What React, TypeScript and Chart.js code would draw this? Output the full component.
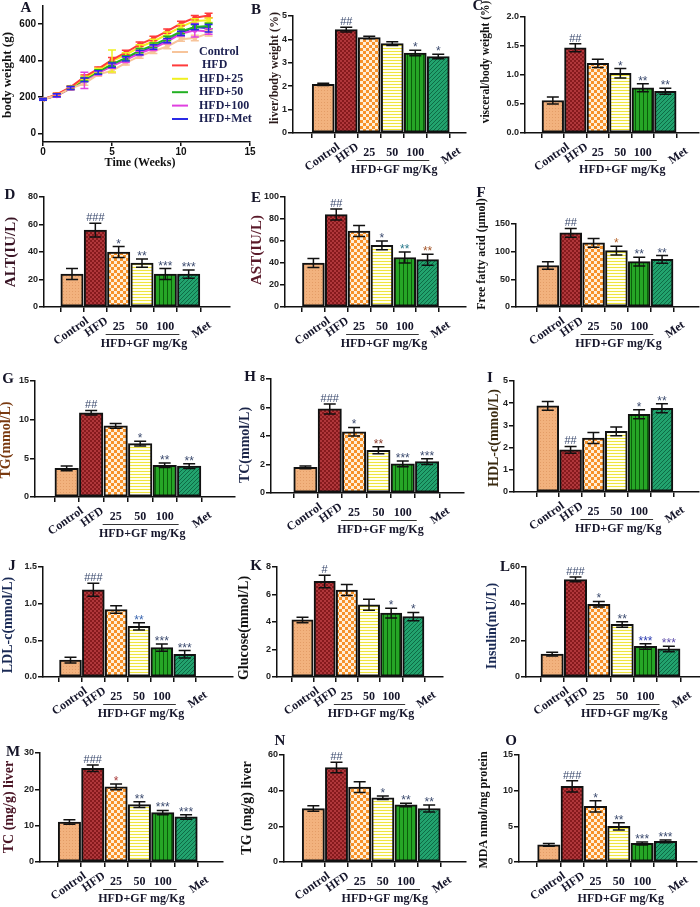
import React, { useEffect, useRef } from 'react';
import { Chart, registerables } from 'chart.js';

Chart.register(...registerables);

// ---------------- data ----------------
const CATEGORIES = ['Control', 'HFD', '25', '50', '100', 'Met'];
const GROUP_LABEL = 'HFD+GF mg/Kg';

const WEEKS = [0, 1, 2, 3, 4, 5, 6, 7, 8, 9, 10, 11, 12];
const BW_NAMES = ['Control', ' HFD', 'HFD+25', 'HFD+50', 'HFD+100', 'HFD+Met'];
const BW_CONTROL = [188, 210, 248, 275, 325, 345, 388, 425, 452, 478, 518, 525, 550];
const BW_HFD = [188, 215, 255, 312, 355, 405, 445, 490, 522, 562, 604, 636, 648];
const BW_GF25 = [188, 212, 252, 305, 348, 398, 432, 475, 505, 545, 586, 618, 622];
const BW_GF50 = [188, 210, 250, 298, 340, 380, 415, 455, 485, 522, 560, 585, 590];
const BW_GF100 = [188, 208, 248, 292, 332, 370, 405, 440, 468, 505, 548, 567, 560];
const BW_MET = [188, 210, 250, 295, 335, 375, 410, 445, 475, 510, 550, 585, 578];
const BW_CONTROL_ERR = [6, 8, 8, 10, 10, 12, 12, 12, 12, 12, 12, 15, 15];
const BW_HFD_ERR = [5, 8, 8, 10, 10, 12, 12, 12, 12, 12, 12, 12, 12];
const BW_GF25_ERR = [5, 8, 8, 10, 10, 60, 12, 12, 12, 12, 12, 12, 12];
const BW_GF50_ERR = [5, 8, 8, 10, 10, 12, 12, 12, 12, 12, 12, 12, 15];
const BW_GF100_ERR = [5, 8, 8, 45, 10, 12, 15, 12, 12, 12, 12, 37, 15];
const BW_MET_ERR = [5, 8, 8, 10, 10, 12, 12, 12, 12, 12, 12, 15, 20];

const LIVER_MEAN = [2.08, 4.42, 4.08, 3.82, 3.42, 3.27];
const LIVER_SEM = [0.05, 0.1, 0.05, 0.08, 0.12, 0.1];
const LIVER_SIG = ['', '##', '', '', '*', '*'];

const VISC_MEAN = [0.56, 1.47, 1.2, 1.03, 0.78, 0.72];
const VISC_SEM = [0.06, 0.07, 0.07, 0.08, 0.07, 0.05];
const VISC_SIG = ['', '##', '', '*', '**', '**'];

const ALT_MEAN = [24, 56, 40, 32, 24, 24];
const ALT_SEM = [4, 5, 4, 3, 4, 3];
const ALT_SIG = ['', '###', '*', '**', '***', '***'];

const AST_MEAN = [40, 84, 69, 56, 45, 43];
const AST_SEM = [4, 5, 5, 4, 5, 5];
const AST_SIG = ['', '##', '', '*', '**', '**'];

const FFA_MEAN = [75, 134, 116, 102, 82, 86];
const FFA_SEM = [7, 8, 8, 8, 8, 7];
const FFA_SIG = ['', '##', '', '*', '**', '**'];

const TG_MEAN = [3.7, 10.9, 9.2, 6.9, 4.1, 4.0];
const TG_SEM = [0.3, 0.3, 0.3, 0.3, 0.3, 0.3];
const TG_SIG = ['', '##', '', '*', '**', '**'];

const TC_MEAN = [1.8, 5.9, 4.3, 3.0, 2.05, 2.2];
const TC_SEM = [0.1, 0.35, 0.3, 0.25, 0.2, 0.2];
const TC_SIG = ['', '###', '*', '**', '***', '***'];

const HDL_MEAN = [3.88, 1.9, 2.43, 2.73, 3.5, 3.77];
const HDL_SEM = [0.2, 0.15, 0.25, 0.2, 0.2, 0.2];
const HDL_SIG = ['', '##', '', '', '*', '**'];

const LDL_MEAN = [0.23, 1.19, 0.92, 0.69, 0.4, 0.31];
const LDL_SEM = [0.04, 0.09, 0.05, 0.05, 0.05, 0.05];
const LDL_SIG = ['', '###', '', '**', '***', '***'];

const GLU_MEAN = [4.15, 6.95, 6.32, 5.25, 4.65, 4.4];
const GLU_SEM = [0.2, 0.45, 0.4, 0.4, 0.35, 0.3];
const GLU_SIG = ['', '#', '', '', '*', '*'];

const INS_MEAN = [12.5, 53.2, 39.7, 28.7, 16.7, 15.3];
const INS_SEM = [1, 1.3, 1.5, 1.5, 1.5, 1.5];
const INS_SIG = ['', '###', '*', '**', '***', '***'];

const LTC_MEAN = [11, 25.8, 20.7, 15.8, 13.6, 12.4];
const LTC_SEM = [0.6, 0.9, 0.8, 0.8, 0.6, 0.6];
const LTC_SIG = ['', '###', '*', '**', '***', '***'];

const LTG_MEAN = [30, 53, 42, 36, 32, 30];
const LTG_SEM = [1.5, 3, 3, 1, 1, 2];
const LTG_SIG = ['', '##', '', '*', '**', '**'];

const MDA_MEAN = [2.4, 10.6, 7.8, 5.0, 2.6, 2.9];
const MDA_SEM = [0.2, 0.8, 0.8, 0.5, 0.2, 0.2];
const MDA_SIG = ['', '###', '*', '**', '***', '***'];

// ---------------- styles / layout ----------------
const SERIF = '"Liberation Serif", "Times New Roman", serif';
const SANS = '"Liberation Sans", Arial, sans-serif';
const W = 700;
const H = 907;
const SIG_COLOR = '#3b4a6e';
const LABEL_COLOR = '#15152a';
const AXIS_COLOR = '#111';

const BW_COLORS = ['#F7C49A', '#FF3B3B', '#F0F020', '#22B022', '#E040E0', '#2A2AE6'];

function makePattern(kind: string): CanvasPattern | string {
  const c = document.createElement('canvas');
  const ctx = c.getContext('2d');
  if (!ctx) return '#ccc';
  const px = (col: string, x: number, y: number, w = 1, h = 1) => {
    ctx.fillStyle = col;
    ctx.fillRect(x, y, w, h);
  };
  if (kind === 'control') {
    c.width = 3; c.height = 3;
    px('#F2B27E', 0, 0, 3, 3);
    px('#E39C66', 0, 0);
  } else if (kind === 'hfd') {
    c.width = 4; c.height = 4;
    px('#861A1D', 0, 0, 4, 4);
    px('#B0373B', 0, 0, 2, 2);
    px('#B0373B', 2, 2, 2, 2);
  } else if (kind === 'gf25') {
    c.width = 6; c.height = 6;
    px('#F7922A', 0, 0, 6, 6);
    px('#FFEFD8', 3, 0, 3, 3);
    px('#FFEFD8', 0, 3, 3, 3);
  } else if (kind === 'gf50') {
    c.width = 3; c.height = 3;
    px('#FFFFEE', 0, 0, 3, 3);
    px('#EFE43C', 0, 0, 3, 1);
  } else if (kind === 'gf100') {
    c.width = 4; c.height = 4;
    px('#26A626', 0, 0, 4, 4);
    px('#0B5E0B', 3, 0, 1, 4);
  } else {
    c.width = 4; c.height = 4;
    px('#22A36E', 0, 0, 4, 4);
    for (let i = 0; i < 4; i++) px('#0E6B45', i, 3 - i);
  }
  return ctx.createPattern(c, 'repeat') || '#ccc';
}

type BarPanel = {
  letter: string; mean: number[]; sem: number[]; sig: string[];
  title: string; yMax: number; yStep: number; dec: number;
  l: number; r: number; t: number; b: number; c0: number; c5: number;
  lx: number; ly: number; tx: number; ty: number; ts: number; tc: string;
  sigColors?: Record<number, string>;
};

const PANELS: BarPanel[] = [
  { letter: 'B', mean: LIVER_MEAN, sem: LIVER_SEM, sig: LIVER_SIG, title: 'liver/body weight (%)', yMax: 5, yStep: 1, dec: 0,
    l: 293, r: 466, t: 16, b: 133, c0: 312, c5: 450, lx: 256, ly: 10, tx: 275, ty: 68, ts: 12, tc: '#2a1a1a' },
  { letter: 'C', mean: VISC_MEAN, sem: VISC_SEM, sig: VISC_SIG, title: 'visceral/body weight (%)', yMax: 2, yStep: 0.5, dec: 1,
    l: 525, r: 699, t: 17, b: 133, c0: 541, c5: 676, lx: 478, ly: 6, tx: 486, ty: 62, ts: 11.5, tc: '#111' },
  { letter: 'D', mean: ALT_MEAN, sem: ALT_SEM, sig: ALT_SIG, title: 'ALT(IU/L)', yMax: 80, yStep: 20, dec: 0,
    l: 44, r: 230, t: 197, b: 307, c0: 59, c5: 199, lx: 10, ly: 195, tx: 11, ty: 252, ts: 15, tc: '#3a1525' },
  { letter: 'E', mean: AST_MEAN, sem: AST_SEM, sig: AST_SIG, title: 'AST(IU/L)', yMax: 100, yStep: 20, dec: 0,
    l: 285, r: 466, t: 197, b: 307, c0: 301, c5: 438, lx: 256, ly: 198, tx: 257, ty: 250, ts: 15, tc: '#5a1a2a',
    sigColors: { 4: '#2b7a8c', 5: '#a5562a' } },
  { letter: 'F', mean: FFA_MEAN, sem: FFA_SEM, sig: FFA_SIG, title: 'Free fatty acid (\u03bcmol)', yMax: 150, yStep: 50, dec: 0,
    l: 516, r: 699, t: 224, b: 307, c0: 536, c5: 673, lx: 481, ly: 193, tx: 482, ty: 254, ts: 12, tc: '#111',
    sigColors: { 3: '#b8642a' } },
  { letter: 'G', mean: TG_MEAN, sem: TG_SEM, sig: TG_SIG, title: 'TG(mmol/L)', yMax: 15, yStep: 5, dec: 0,
    l: 35, r: 235, t: 381, b: 497, c0: 53, c5: 200, lx: 8, ly: 379, tx: 6, ty: 440, ts: 14, tc: '#7a3a10' },
  { letter: 'H', mean: TC_MEAN, sem: TC_SEM, sig: TC_SIG, title: 'TC(mmol/L)', yMax: 8, yStep: 2, dec: 0,
    l: 271, r: 464, t: 379, b: 493, c0: 293, c5: 439, lx: 250, ly: 377, tx: 245, ty: 445, ts: 14, tc: '#1a2448',
    sigColors: { 3: '#8a3a2a' } },
  { letter: 'I', mean: HDL_MEAN, sem: HDL_SEM, sig: HDL_SIG, title: 'HDL-c(mmol/L)', yMax: 5, yStep: 1, dec: 0,
    l: 514, r: 699, t: 381, b: 492, c0: 536, c5: 673, lx: 490, ly: 378, tx: 494, ty: 438, ts: 14, tc: '#3a2a10' },
  { letter: 'J', mean: LDL_MEAN, sem: LDL_SEM, sig: LDL_SIG, title: 'LDL-c(mmol/L)', yMax: 1.5, yStep: 0.5, dec: 1,
    l: 43, r: 233, t: 567, b: 677, c0: 57, c5: 194, lx: 12, ly: 566, tx: 8, ty: 625, ts: 14, tc: '#1a2a55',
    sigColors: { 3: '#3a66b0' } },
  { letter: 'K', mean: GLU_MEAN, sem: GLU_SEM, sig: GLU_SIG, title: 'Glucose(mmol/L)', yMax: 8, yStep: 2, dec: 0,
    l: 277, r: 443, t: 567, b: 677, c0: 291, c5: 424, lx: 256, ly: 566, tx: 244, ty: 628, ts: 14, tc: '#111' },
  { letter: 'L', mean: INS_MEAN, sem: INS_SEM, sig: INS_SIG, title: 'Insulin(mU/L)', yMax: 60, yStep: 20, dec: 0,
    l: 526, r: 700, t: 567, b: 677, c0: 540, c5: 680, lx: 505, ly: 567, tx: 492, ty: 626, ts: 14, tc: '#1a2a55',
    sigColors: { 4: '#2a3ab0', 5: '#5a4aa8' } },
  { letter: 'M', mean: LTC_MEAN, sem: LTC_SEM, sig: LTC_SIG, title: 'TC (mg/g) liver', yMax: 30, yStep: 10, dec: 0,
    l: 40, r: 223, t: 753, b: 862, c0: 57, c5: 197, lx: 13, ly: 752, tx: 9, ty: 807, ts: 14, tc: '#4a1525',
    sigColors: { 2: '#a83a3a' } },
  { letter: 'N', mean: LTG_MEAN, sem: LTG_SEM, sig: LTG_SIG, title: 'TG (mg/g) liver', yMax: 60, yStep: 20, dec: 0,
    l: 284, r: 466, t: 755, b: 862, c0: 301, c5: 440, lx: 280, ly: 741, tx: 247, ty: 808, ts: 14, tc: '#111' },
  { letter: 'O', mean: MDA_MEAN, sem: MDA_SEM, sig: MDA_SIG, title: 'MDA nmol/mg protein', yMax: 15, yStep: 5, dec: 0,
    l: 519, r: 697, t: 755, b: 862, c0: 537, c5: 677, lx: 511, ly: 741, tx: 484, ty: 810, ts: 12, tc: '#111' },
];

const ROTATED_LABELS: Record<number, [number, number]> = { 0: [12, 8], 1: [8, 8], 5: [18, 12] };

function axisGrid() {
  return { display: true, drawOnChartArea: false, drawTicks: true, tickLength: 5, color: AXIS_COLOR, lineWidth: 1.5 };
}
function axisBorder() {
  return { display: true, color: AXIS_COLOR, width: 1.5 };
}

function drawTitle(ctx: CanvasRenderingContext2D, text: string, x: number, y: number, size: number, color: string) {
  ctx.save();
  ctx.translate(x, y);
  ctx.rotate(-Math.PI / 2);
  ctx.font = `bold ${size}px ${SERIF}`;
  ctx.fillStyle = color;
  ctx.textAlign = 'center';
  ctx.textBaseline = 'middle';
  ctx.fillText(text, 0, 0);
  ctx.restore();
}

function drawLetter(ctx: CanvasRenderingContext2D, letter: string, x: number, y: number) {
  ctx.save();
  ctx.font = `bold 15px ${SERIF}`;
  ctx.fillStyle = '#141428';
  ctx.textAlign = 'center';
  ctx.textBaseline = 'middle';
  ctx.fillText(letter, x, y);
  ctx.restore();
}

function barOverlay(p: BarPanel) {
  return {
    id: 'overlay' + p.letter,
    afterDatasetsDraw(chart: any) {
      const ctx: CanvasRenderingContext2D = chart.ctx;
      const xs = chart.scales.x;
      const ys = chart.scales.y;
      const b = ys.getPixelForValue(0);
      ctx.save();
      p.mean.forEach((m, i) => {
        const x = xs.getPixelForValue(i);
        const yt = ys.getPixelForValue(m + p.sem[i]);
        const yb = ys.getPixelForValue(m - p.sem[i]);
        ctx.strokeStyle = '#111';
        ctx.lineWidth = 1.5;
        ctx.beginPath();
        ctx.moveTo(x, yt); ctx.lineTo(x, yb);
        ctx.moveTo(x - 6, yt); ctx.lineTo(x + 6, yt);
        ctx.moveTo(x - 6, yb); ctx.lineTo(x + 6, yb);
        ctx.stroke();
        const s = p.sig[i];
        if (s) {
          ctx.fillStyle = (p.sigColors && p.sigColors[i]) || SIG_COLOR;
          ctx.textAlign = 'center';
          ctx.textBaseline = 'alphabetic';
          if (s.includes('*')) {
            ctx.font = `12px ${SANS}`;
            ctx.fillText(s, x, yt + 1);
          } else {
            ctx.font = `11px ${SANS}`;
            ctx.fillText(s, x, yt - 2);
          }
        }
      });
      // x labels
      ctx.fillStyle = LABEL_COLOR;
      ctx.font = `bold 12px ${SERIF}`;
      CATEGORIES.forEach((lab, i) => {
        const x = xs.getPixelForValue(i);
        const rot = ROTATED_LABELS[i];
        if (rot) {
          ctx.save();
          ctx.translate(x + rot[0], b + rot[1]);
          ctx.rotate((-35 * Math.PI) / 180);
          ctx.textAlign = 'right';
          ctx.textBaseline = 'top';
          ctx.fillText(lab, 0, 0);
          ctx.restore();
        } else {
          ctx.textAlign = 'center';
          ctx.textBaseline = 'middle';
          ctx.fillText(lab, x, b + 20);
        }
      });
      const x2 = xs.getPixelForValue(2);
      const x4 = xs.getPixelForValue(4);
      ctx.strokeStyle = '#333';
      ctx.lineWidth = 1;
      ctx.beginPath();
      ctx.moveTo(x2 - 13, b + 27.5);
      ctx.lineTo(x4 + 14, b + 27.5);
      ctx.stroke();
      ctx.textAlign = 'center';
      ctx.textBaseline = 'middle';
      ctx.fillText(GROUP_LABEL, (x2 + x4) / 2 + 2, b + 37);
      ctx.restore();
      drawTitle(ctx, p.title, p.tx, p.ty, p.ts, p.tc);
      drawLetter(ctx, p.letter, p.lx, p.ly);
    },
  };
}

const PATTERN_KINDS = ['control', 'hfd', 'gf25', 'gf50', 'gf100', 'met'];

function buildBar(canvas: HTMLCanvasElement, p: BarPanel) {
  const step = (p.c5 - p.c0) / 5;
  const xmin = -(p.c0 - p.l) / step;
  const xmax = 5 + (p.r - p.c5) / step;
  const YW = 30;
  const XH = 6;
  const fills = PATTERN_KINDS.map(makePattern);
  return new Chart(canvas, {
    type: 'bar',
    data: {
      datasets: [{
        data: p.mean.map((v, i) => ({ x: i, y: v })),
        backgroundColor: fills as any,
        borderColor: '#111',
        borderWidth: 2,
        borderSkipped: false,
        barThickness: step * 0.8,
      }],
    },
    options: {
      responsive: false,
      animation: false,
      devicePixelRatio: 1,
      layout: { padding: { left: p.l - YW, right: W - p.r, top: p.t, bottom: H - p.b - XH } },
      plugins: { legend: { display: false }, tooltip: { enabled: false } },
      scales: {
        x: {
          type: 'linear', min: xmin, max: xmax,
          ticks: { display: false, includeBounds: false },
          afterBuildTicks: (s: any) => { s.ticks = CATEGORIES.map((_, i) => ({ value: i })); },
          afterFit: (s: any) => { s.height = XH; s.paddingLeft = 0; s.paddingRight = 0; },
          grid: axisGrid() as any, border: axisBorder(),
        },
        y: {
          type: 'linear', min: 0, max: p.yMax,
          ticks: {
            stepSize: p.yStep, padding: 1, color: '#222',
            font: { family: SANS, size: 9, weight: 'bold' },
            callback: (v: any) => Number(v).toFixed(p.dec),
          },
          afterFit: (s: any) => { s.width = YW; s.paddingTop = 0; s.paddingBottom = 0; },
          grid: axisGrid() as any, border: axisBorder(),
        },
      },
    } as any,
    plugins: [barOverlay(p)],
  });
}

const A_LAYOUT = { l: 43, r: 250, t: 6, b: 142 };
const BW_SERIES = [BW_CONTROL, BW_HFD, BW_GF25, BW_GF50, BW_GF100, BW_MET];
const BW_ERRS = [BW_CONTROL_ERR, BW_HFD_ERR, BW_GF25_ERR, BW_GF50_ERR, BW_GF100_ERR, BW_MET_ERR];

function buildLine(canvas: HTMLCanvasElement) {
  const YW = 30;
  const XH = 20;
  const L = A_LAYOUT;
  const overlay = {
    id: 'overlayA',
    afterDatasetsDraw(chart: any) {
      const ctx: CanvasRenderingContext2D = chart.ctx;
      const xs = chart.scales.x;
      const ys = chart.scales.y;
      ctx.save();
      BW_SERIES.forEach((ser, k) => {
        ctx.strokeStyle = BW_COLORS[k];
        ctx.lineWidth = 1.5;
        ser.forEach((v, i) => {
          const x = xs.getPixelForValue(WEEKS[i]);
          const yt = ys.getPixelForValue(v + BW_ERRS[k][i]);
          const yb = ys.getPixelForValue(v - BW_ERRS[k][i]);
          ctx.beginPath();
          ctx.moveTo(x, yt); ctx.lineTo(x, yb);
          ctx.moveTo(x - 4, yt); ctx.lineTo(x + 4, yt);
          ctx.moveTo(x - 4, yb); ctx.lineTo(x + 4, yb);
          ctx.stroke();
        });
      });
      // legend
      BW_NAMES.forEach((name, k) => {
        const y = 52 + k * 13.4;
        ctx.strokeStyle = BW_COLORS[k];
        ctx.lineWidth = 2;
        ctx.beginPath();
        ctx.moveTo(172, y); ctx.lineTo(188, y);
        ctx.stroke();
        ctx.fillStyle = '#1c2050';
        ctx.font = `bold 12px ${SERIF}`;
        ctx.textAlign = 'left';
        ctx.textBaseline = 'middle';
        ctx.fillText(name, 199, y);
      });
      ctx.fillStyle = '#111';
      ctx.font = `bold 12px ${SERIF}`;
      ctx.textAlign = 'center';
      ctx.textBaseline = 'middle';
      ctx.fillText('Time (Weeks)', 140, 163);
      ctx.restore();
      drawTitle(ctx, 'body weight (g)', 8, 75, 13, '#111');
      drawLetter(ctx, 'A', 26, 8);
    },
  };
  return new Chart(canvas, {
    type: 'line',
    data: {
      datasets: BW_SERIES.map((ser, k) => ({
        label: BW_NAMES[k],
        data: ser.map((v, i) => ({ x: WEEKS[i], y: v })),
        borderColor: BW_COLORS[k],
        backgroundColor: BW_COLORS[k],
        borderWidth: 2,
        pointRadius: 1.5,
        fill: false,
        tension: 0,
      })),
    },
    options: {
      responsive: false,
      animation: false,
      devicePixelRatio: 1,
      layout: { padding: { left: L.l - YW, right: W - L.r, top: L.t, bottom: H - L.b - XH } },
      plugins: { legend: { display: false }, tooltip: { enabled: false } },
      scales: {
        x: {
          type: 'linear', min: 0, max: 15,
          ticks: { stepSize: 5, padding: 0, color: '#111', font: { family: SANS, size: 10, weight: 'bold' } },
          afterFit: (s: any) => { s.height = XH; s.paddingLeft = 0; s.paddingRight = 0; },
          grid: { ...axisGrid(), tickLength: 4 } as any, border: axisBorder(),
        },
        y: {
          type: 'linear', min: -46, max: 700,
          ticks: { padding: 2, color: '#111', font: { family: SANS, size: 10, weight: 'bold' } },
          afterBuildTicks: (s: any) => { s.ticks = [0, 200, 400, 600].map((v) => ({ value: v })); },
          afterFit: (s: any) => { s.width = YW; s.paddingTop = 0; s.paddingBottom = 0; },
          grid: axisGrid() as any, border: axisBorder(),
        },
      },
    } as any,
    plugins: [overlay],
  });
}

function ChartCanvas({ build }: { build: (c: HTMLCanvasElement) => Chart }) {
  const ref = useRef<HTMLCanvasElement>(null);
  useEffect(() => {
    if (!ref.current) return;
    const chart = build(ref.current);
    return () => chart.destroy();
  }, []);
  return (
    <canvas
      ref={ref}
      width={W}
      height={H}
      style={{ position: 'absolute', left: 0, top: 0, width: W, height: H }}
    />
  );
}

export default function App() {
  return (
    <div style={{ position: 'absolute', left: 0, top: 0, width: W, height: H, background: '#fff', overflow: 'hidden' }}>
      <ChartCanvas build={buildLine} />
      {PANELS.map((p) => (
        <ChartCanvas key={p.letter} build={(c) => buildBar(c, p)} />
      ))}
    </div>
  );
}
